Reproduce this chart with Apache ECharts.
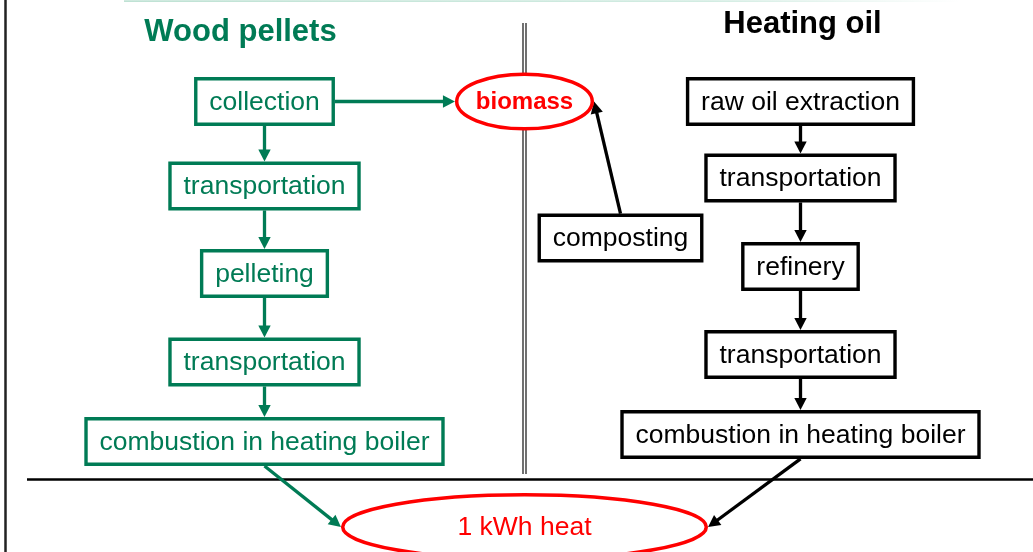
<!DOCTYPE html>
<html><head><meta charset="utf-8">
<script src="https://cdn.jsdelivr.net/npm/echarts@6/dist/echarts.min.js"></script>
<style>html,body{margin:0;padding:0;background:#fff}#c{width:1033px;height:552px}</style>
</head><body><div id="c"></div>
<script>
// ---------------- data ----------------
const titles = ['Wood pellets', 'Heating oil'];
const woodSteps = ['collection', 'transportation', 'pelleting', 'transportation', 'combustion in heating boiler'];
const oilSteps = ['raw oil extraction', 'transportation', 'refinery', 'transportation', 'combustion in heating boiler'];
const sideSteps = ['composting'];
const outcomes = ['biomass', '1 kWh heat'];
// links: [from, to, fromSide, toSide]
const links = [
  ['w0', 'w1', 'bottom', 'top'], ['w1', 'w2', 'bottom', 'top'], ['w2', 'w3', 'bottom', 'top'], ['w3', 'w4', 'bottom', 'top'],
  ['o0', 'o1', 'bottom', 'top'], ['o1', 'o2', 'bottom', 'top'], ['o2', 'o3', 'bottom', 'top'], ['o3', 'o4', 'bottom', 'top'],
  ['w0', 'biomass', 'right', 'left'],
  ['c0', 'biomass', 'top', 'right'],
  ['w4', 'heat', 'bottom', 'left'],
  ['o4', 'heat', 'bottom', 'right']
];

// ---------------- layout (hidden axis units) ----------------
const layout = {
  woodX: 264.5, woodY: [101.5, 186, 273.5, 362, 441.5],
  oilX: 800.5, oilY: [101.5, 178, 266.5, 354.5, 434.5],
  compost: [620.5, 238],
  biomass: { x: 524.5, y: 101.5, rx: 67.8, ry: 27.3 },
  heat: { x: 524.5, y: 527, rx: 181.8, ry: 32.3 },
  titleWood: [240.5, 32.8], titleOil: [802.5, 24.5]
};
const GREEN = '#007b55', BLACK = '#000000', RED = '#ff0000';
const FF = "'Liberation Sans', Arial, Helvetica, sans-serif";
const BOX_FONT = 26.5, BOX_H = 45.5, BOX_PAD = 27, BOX_LW = 3.4;

const nodes = {};
woodSteps.forEach((t, i) => nodes['w' + i] = { label: t, x: layout.woodX, y: layout.woodY[i], kind: 'box', color: GREEN });
oilSteps.forEach((t, i) => nodes['o' + i] = { label: t, x: layout.oilX, y: layout.oilY[i], kind: 'box', color: BLACK });
sideSteps.forEach((t, i) => nodes['c' + i] = { label: t, x: layout.compost[0], y: layout.compost[1], kind: 'box', color: BLACK });
nodes.biomass = { label: outcomes[0], x: layout.biomass.x, y: layout.biomass.y, kind: 'ellipse', rx: layout.biomass.rx, ry: layout.biomass.ry, color: RED, bold: true, fs: 24 };
nodes.heat = { label: outcomes[1], x: layout.heat.x, y: layout.heat.y, kind: 'ellipse', rx: layout.heat.rx, ry: layout.heat.ry, color: RED, bold: false, fs: 26.5 };
const nodeIds = Object.keys(nodes);

const mctx = document.createElement('canvas').getContext('2d');
function textW(t, fs, bold) { mctx.font = (bold ? 'bold ' : '') + fs + 'px ' + FF; return mctx.measureText(t).width; }

function halfSize(n, api) {
  if (n.kind === 'box') {
    const w = textW(n.label, BOX_FONT, false) + BOX_PAD;
    return [w / 2 + BOX_LW / 2, BOX_H / 2 + BOX_LW / 2];
  }
  const s = api.size([n.rx, n.ry]);
  return [s[0] + 1.75, s[1] + 1.75];
}
function anchor(n, side, api) {
  const p = api.coord([n.x, n.y]);
  const h = halfSize(n, api);
  if (side === 'top') return [p[0], p[1] - h[1]];
  if (side === 'bottom') return [p[0], p[1] + h[1]];
  if (side === 'left') return [p[0] - h[0], p[1]];
  return [p[0] + h[0], p[1]];
}

// separators / frame lines (axis units)
const rules = [
  { a: [5.5, 0], b: [5.5, 552], w: 2.5, c: '#222' },
  { a: [523, 23], b: [523, 474], w: 1.2, c: '#111' },
  { a: [526, 23], b: [526, 474], w: 1.2, c: '#111' },
  { a: [27, 479.5], b: [1033, 479.5], w: 2.5, c: '#000' },
  { a: [124, 1.2], b: [960, 1.2], w: 1.8, c: 'grad' }
];

const option = {
  animation: false,
  backgroundColor: '#ffffff',
  grid: { left: 0, right: 0, top: 0, bottom: 0 },
  xAxis: { type: 'value', min: 0, max: 1033, show: false },
  yAxis: { type: 'value', min: 0, max: 552, inverse: true, show: false },
  series: [
    {
      type: 'custom', name: 'rules', silent: true,
      data: rules.map((r, i) => [r.a[0], r.a[1], i]),
      renderItem: (params, api) => {
        const r = rules[api.value(2)];
        const p1 = api.coord(r.a), p2 = api.coord(r.b);
        const stroke = r.c === 'grad'
          ? new echarts.graphic.LinearGradient(0, 0, 1, 0, [{ offset: 0, color: '#bfe2d4' }, { offset: 0.7, color: '#d2ece2' }, { offset: 1, color: '#ffffff' }])
          : r.c;
        return { type: 'line', shape: { x1: p1[0], y1: p1[1], x2: p2[0], y2: p2[1] }, style: { stroke, lineWidth: r.w } };
      }
    },
    {
      type: 'custom', name: 'titles', silent: true,
      data: [[layout.titleWood[0], layout.titleWood[1], 0], [layout.titleOil[0], layout.titleOil[1], 1]],
      renderItem: (params, api) => {
        const i = api.value(2);
        const p = api.coord([api.value(0), api.value(1)]);
        return { type: 'text', style: { text: titles[i], x: p[0], y: p[1], align: 'center', verticalAlign: 'middle', fill: i === 0 ? GREEN : BLACK, fontSize: 31, fontWeight: 'bold', fontFamily: FF } };
      }
    },
    {
      type: 'custom', name: 'arrows', silent: true,
      data: links.map((l, i) => [nodes[l[0]].x, nodes[l[0]].y, i]),
      renderItem: (params, api) => {
        const l = links[api.value(2)];
        const a = nodes[l[0]], b = nodes[l[1]];
        const s = anchor(a, l[2], api), t = anchor(b, l[3], api);
        const color = a.color;
        const dx = t[0] - s[0], dy = t[1] - s[1], len = Math.hypot(dx, dy);
        const ux = dx / len, uy = dy / len;
        const HL = 12, HW = 6.2;
        const bx = t[0] - ux * HL, by = t[1] - uy * HL;
        return {
          type: 'group', children: [
            { type: 'line', shape: { x1: s[0], y1: s[1], x2: bx + ux * 1, y2: by + uy * 1 }, style: { stroke: color, lineWidth: 3.3 } },
            { type: 'polygon', shape: { points: [[t[0], t[1]], [bx - uy * HW, by + ux * HW], [bx + uy * HW, by - ux * HW]] }, style: { fill: color } }
          ]
        };
      }
    },
    {
      type: 'custom', name: 'nodes', silent: true,
      data: nodeIds.map((id, i) => [nodes[id].x, nodes[id].y, i]),
      renderItem: (params, api) => {
        const n = nodes[nodeIds[api.value(2)]];
        const p = api.coord([api.value(0), api.value(1)]);
        if (n.kind === 'box') {
          const w = textW(n.label, BOX_FONT, false) + BOX_PAD;
          return {
            type: 'group', children: [
              { type: 'rect', shape: { x: p[0] - w / 2, y: p[1] - BOX_H / 2, width: w, height: BOX_H }, style: { fill: '#fff', stroke: n.color, lineWidth: BOX_LW } },
              { type: 'text', style: { text: n.label, x: p[0], y: p[1] + 1, align: 'center', verticalAlign: 'middle', fill: n.color, fontSize: BOX_FONT, fontFamily: FF } }
            ]
          };
        }
        const s = api.size([n.rx, n.ry]);
        return {
          type: 'group', children: [
            { type: 'ellipse', shape: { cx: p[0], cy: p[1], rx: s[0], ry: s[1] }, style: { fill: '#fff', stroke: n.color, lineWidth: 3.5 } },
            { type: 'text', style: { text: n.label, x: p[0], y: p[1] + 1, align: 'center', verticalAlign: 'middle', fill: n.color, fontSize: n.fs, fontWeight: n.bold ? 'bold' : 'normal', fontFamily: FF } }
          ]
        };
      }
    }
  ]
};
const chart = echarts.init(document.getElementById('c'), null, { renderer: 'canvas' });
chart.setOption(option);
</script></body></html>
